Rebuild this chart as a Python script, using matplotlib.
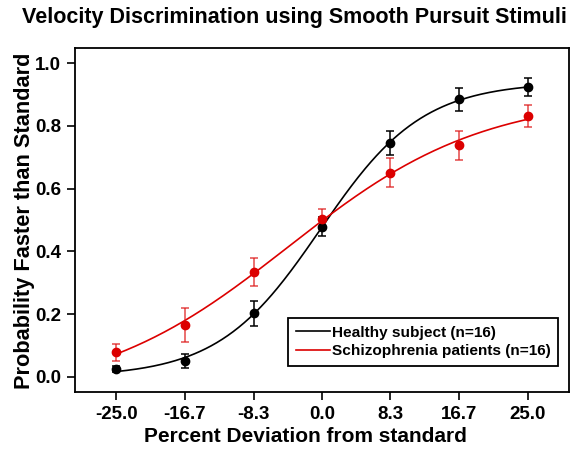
import numpy as np
import matplotlib
matplotlib.use("Agg")
import matplotlib.pyplot as plt

plt.rcParams['font.family'] = ['Liberation Sans', 'DejaVu Sans']

# percent deviation from the standard speed
deviation = [-25.0, -16.7, -8.3, 0.0, 8.3, 16.7, 25.0]
tick_labels = ["-25.0", "-16.7", "-8.3", "0.0", "8.3", "16.7", "25.0"]

# proportion "faster" responses (mean +/- sem)
healthy = [0.025, 0.051, 0.203, 0.479, 0.744, 0.884, 0.925]
healthy_err = [0.010, 0.023, 0.040, 0.030, 0.038, 0.037, 0.029]
schizo = [0.079, 0.166, 0.335, 0.502, 0.651, 0.738, 0.831]
schizo_err = [0.027, 0.055, 0.045, 0.032, 0.047, 0.046, 0.034]

RED = '#dc0000'


def fit_logistic(x, y):
    """least squares fit of lo + (hi - lo) * logistic((x - mu) / s)
    lo/hi are solved in closed form for every (mu, s) on a grid"""
    x = np.asarray(x)
    y = np.asarray(y)
    best = None
    for mu in np.linspace(-8, 8, 161):
        for s in np.linspace(2, 20, 181):
            F = 1.0 / (1.0 + np.exp(-(x - mu) / s))
            A = np.column_stack([1 - F, F])
            coef, *_ = np.linalg.lstsq(A, y, rcond=None)
            err = np.sum((A @ coef - y) ** 2)
            if best is None or err < best[0]:
                best = (err, mu, s, coef[0], coef[1])
    _, mu, s, lo, hi = best
    return lambda t: lo + (hi - lo) / (1.0 + np.exp(-(t - mu) / s))


fig = plt.figure(figsize=(5.74, 4.49), dpi=100)
ax = fig.add_axes([75 / 574, 57 / 449, 494 / 574, 344 / 449])

xs = np.linspace(deviation[0], deviation[-1], 300)

h_line, = ax.plot(xs, fit_logistic(deviation, healthy)(xs), color='black', lw=1.2)
s_line, = ax.plot(xs, fit_logistic(deviation, schizo)(xs), color=RED, lw=1.2)

ax.errorbar(deviation, healthy, yerr=healthy_err, fmt='o', color='black',
            ms=6, elinewidth=1.1, capsize=3, capthick=1.1)
ax.errorbar(deviation, schizo, yerr=schizo_err, fmt='o', color=RED,
            ms=6, ecolor=(0.87, 0.1, 0.1, 0.8), elinewidth=1.1, capsize=3, capthick=1.1)

ax.set_xlim(-30, 30)
ax.set_ylim(-0.048, 1.048)
ax.set_xticks(deviation)
ax.set_xticklabels(tick_labels)
ax.set_yticks([0.0, 0.2, 0.4, 0.6, 0.8, 1.0])
ax.set_yticklabels(["0.0", "0.2", "0.4", "0.6", "0.8", "1.0"])
ax.tick_params(direction='out', length=6, width=1.2, labelsize=13.5, pad=4)
for lab in ax.get_xticklabels() + ax.get_yticklabels():
    lab.set_fontweight('bold')
for sp in ax.spines.values():
    sp.set_linewidth(1.3)

leg = ax.legend([h_line, s_line],
                ["Healthy subject (n=16)", "Schizophrenia patients (n=16)"],
                loc='lower right', bbox_to_anchor=(483 / 494, 26 / 344),
                prop={'size': 11.1, 'weight': 'bold'}, frameon=True, fancybox=False,
                edgecolor='black', framealpha=1, handlelength=2.2, handletextpad=0.1,
                borderpad=0.5, labelspacing=0.3, borderaxespad=0)
leg.get_frame().set_linewidth(1.3)

fig.text(294 / 574, 1 - 18 / 449, "Velocity Discrimination using Smooth Pursuit Stimuli",
         ha='center', va='center', fontsize=15.5, fontweight='bold')
fig.text(305 / 574, 1 - 437 / 449, "Percent Deviation from standard",
         ha='center', va='center', fontsize=15, fontweight='bold')
fig.text(25 / 574, 1 - 221 / 449, "Probability Faster than Standard",
         ha='center', va='center', rotation=90, fontsize=15.7, fontweight='bold')

fig.savefig("out.png", dpi=100)
